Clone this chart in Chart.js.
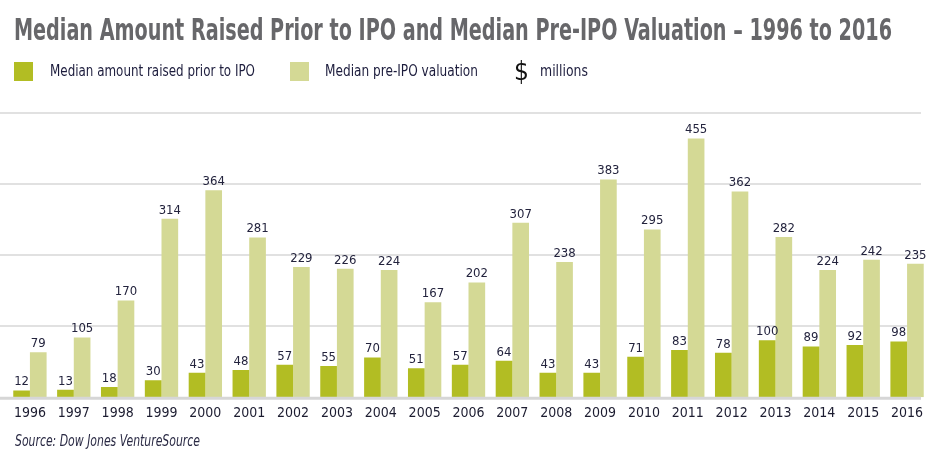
<!DOCTYPE html>
<html>
<head>
<meta charset="utf-8">
<script src="https://cdn.jsdelivr.net/npm/chart.js@4.4.0/dist/chart.umd.min.js"></script>
<style>
  body { margin: 0; width: 948px; height: 460px; background: #fff; position: relative; overflow: hidden;
         font-family: "Liberation Sans Narrow", "DejaVu Sans Condensed", sans-serif; }
  #chartBox { position: absolute; left: 0; top: 0; width: 948px; height: 460px; }
  .title { position: absolute; left: 14px; top: 11px; font-size: 31px; font-weight: bold; color: #67676a;
           white-space: nowrap; transform-origin: 0 0; }
  .legend { position: absolute; top: 60px; left: 0; height: 24px; font-size: 15px; color: #1c1c3c; }
  .sw { position: absolute; top: 2px; width: 19px; height: 19px; }
  .lt { position: absolute; top: 2px; white-space: nowrap; transform-origin: 0 0; }
  .source { position: absolute; left: 15px; top: 432px; font-size: 15px; font-style: italic; color: #2a2a44;
            transform-origin: 0 0; white-space: nowrap; }
</style>
</head>
<body>
<div id="chartBox"><canvas id="barChart" width="948" height="460"></canvas></div>
<div class="title" id="title" data-w="878">Median Amount Raised Prior to IPO and Median Pre-IPO Valuation – 1996 to 2016</div>
<div class="legend">
  <div class="sw" style="left:14px;background:#b2bd23"></div>
  <div class="lt fit" data-w="205" style="left:50px">Median amount raised prior to IPO</div>
  <div class="sw" style="left:290px;background:#d4d995"></div>
  <div class="lt fit" data-w="153" style="left:325px">Median pre-IPO valuation</div>
  <div class="lt" style="left:514px;top:-4px;font-size:26px;color:#111">$</div>
  <div class="lt fit" data-w="48" style="left:540px">millions</div>
</div>
<div class="source fit" data-w="185">Source: Dow Jones VentureSource</div>
<script>
const years = ['1996', '1997', '1998', '1999', '2000', '2001', '2002', '2003', '2004', '2005', '2006',
  '2007', '2008', '2009', '2010', '2011', '2012', '2013', '2014', '2015', '2016'];
const amountRaised = [12, 13, 18, 30, 43, 48, 57, 55, 70, 51, 57, 64, 43, 43, 71, 83, 78, 100, 89, 92, 98];
const preIpoValuation = [79, 105, 170, 314, 364, 281, 229, 226, 224, 167, 202, 307, 238, 383, 295, 455, 362, 282, 224, 242, 235];
const gridValues = [125, 250, 375, 500];

// squeeze the texts to the widths they have in the original
document.querySelectorAll('#title, .fit').forEach(el => {
  const w = el.getBoundingClientRect().width;
  el.style.transform = 'scaleX(' + (el.dataset.w / w) + ')';
});

const gridPlugin = {
  id: 'gridLines',
  beforeDatasetsDraw(chart) {
    const ctx = chart.ctx;
    const y = chart.scales.y;
    ctx.save();
    ctx.strokeStyle = '#e1e1e1';
    ctx.lineWidth = 2;
    gridValues.forEach(v => {
      const py = Math.round(y.getPixelForValue(v));
      ctx.beginPath();
      ctx.moveTo(0, py);
      ctx.lineTo(921, py);
      ctx.stroke();
    });
    ctx.restore();
  },
  afterDatasetsDraw(chart) {
    const ctx = chart.ctx;
    const y = chart.scales.y;
    const py = y.getPixelForValue(0) + 1;
    ctx.save();
    ctx.strokeStyle = '#d6d6d6';
    ctx.lineWidth = 3;
    ctx.beginPath();
    ctx.moveTo(0, py);
    ctx.lineTo(921, py);
    ctx.stroke();
    ctx.restore();
  }
};

const valueLabels = {
  id: 'valueLabels',
  afterDatasetsDraw(chart) {
    const ctx = chart.ctx;
    ctx.save();
    ctx.font = '13px "Liberation Sans Narrow", "DejaVu Sans Condensed", sans-serif';
    ctx.fillStyle = '#23233d';
    ctx.textAlign = 'center';
    ctx.textBaseline = 'bottom';
    chart.data.datasets.forEach((ds, i) => {
      chart.getDatasetMeta(i).data.forEach((bar, j) => {
        ctx.fillText(ds.data[j], bar.x, bar.y - 2);
      });
    });
    ctx.restore();
  }
};

new Chart(document.getElementById('barChart').getContext('2d'), {
  type: 'bar',
  data: {
    labels: years,
    datasets: [
      { label: 'Median amount raised prior to IPO', data: amountRaised, backgroundColor: '#b2bd23' },
      { label: 'Median pre-IPO valuation', data: preIpoValuation, backgroundColor: '#d4d995' }
    ]
  },
  options: {
    responsive: false,
    animation: false,
    layout: { padding: { left: 8, right: 19, top: 113, bottom: 38 } },
    datasets: { bar: { categoryPercentage: 0.76, barPercentage: 1 } },
    plugins: { legend: { display: false }, tooltip: { enabled: false } },
    scales: {
      x: {
        grid: { display: false },
        border: { display: false },
        ticks: {
          color: '#1c1c30',
          padding: 0,
          maxRotation: 0,
          font: { family: '"Liberation Sans Narrow", "DejaVu Sans Condensed", sans-serif', size: 14 }
        }
      },
      y: { display: false, min: 0, max: 500 }
    }
  },
  plugins: [gridPlugin, valueLabels]
});
</script>
</body>
</html>
